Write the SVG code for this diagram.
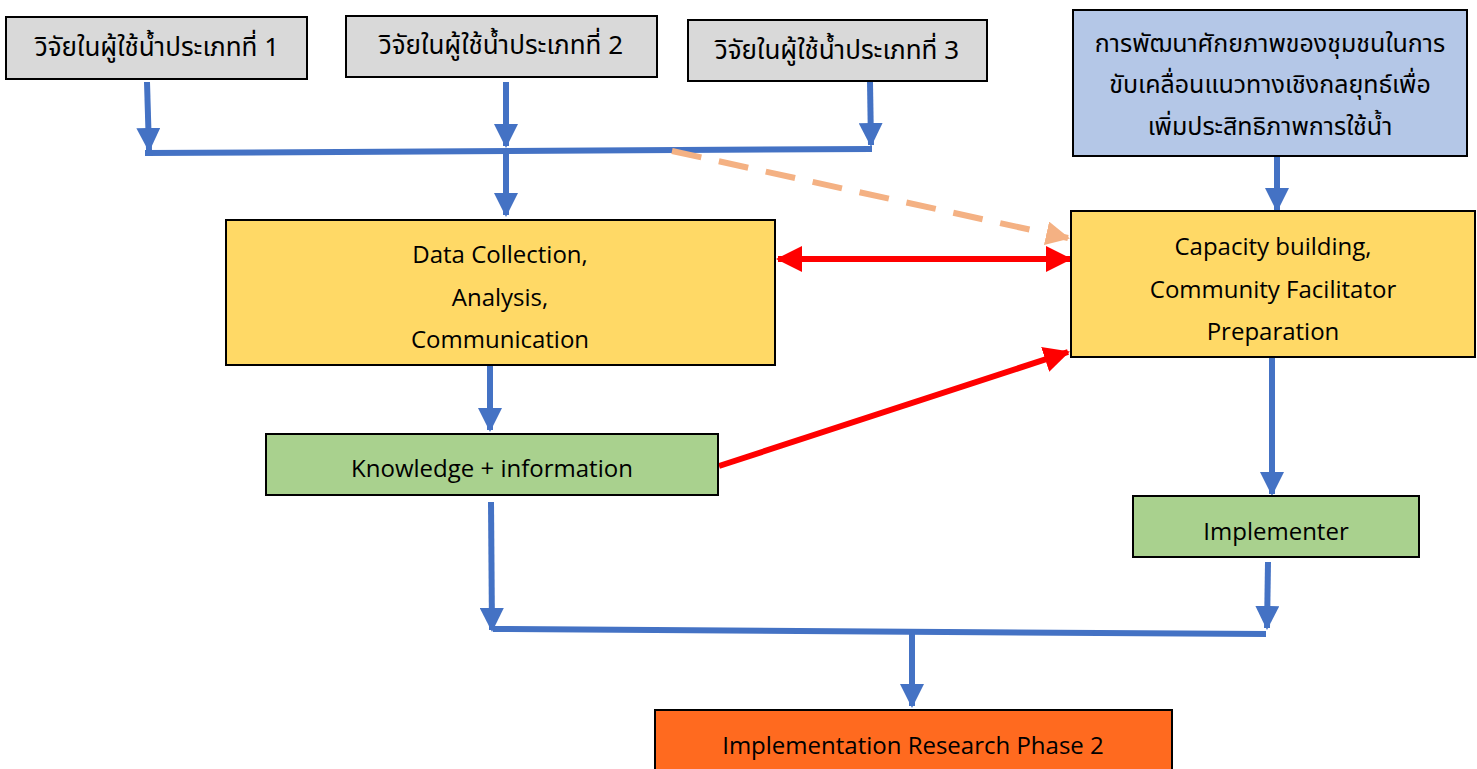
<svg xmlns="http://www.w3.org/2000/svg" width="1477" height="769" viewBox="0 0 1477 769">
<style>
.box{stroke:#000;stroke-width:2}
.grey{fill:#d9d9d9}
.blue{fill:#b4c7e7}
.yel{fill:#ffd966}
.grn{fill:#a9d18e}
.org{fill:#ff6a1f}
.th{font-family:"Noto Sans Thai","Noto Sans","DejaVu Sans",sans-serif;font-size:26px;fill:#000;text-anchor:middle;dominant-baseline:central}
.thb{font-size:25px}
.en{font-family:"Open Sans","Noto Sans",sans-serif;font-size:24px;fill:#000;text-anchor:middle;dominant-baseline:central}
.bl{stroke:#4472c4;stroke-width:6;fill:none}
.rd{stroke:#ff0000;stroke-width:6;fill:none}
.pe{stroke:#f4b183;stroke-width:6;fill:none;stroke-dasharray:30 18}
</style>
<defs>
<marker id="ab" markerUnits="userSpaceOnUse" markerWidth="26" markerHeight="24" refX="22" refY="12" orient="auto"><path d="M0,0 L24,12 L0,24 Z" fill="#4472c4"/></marker>
<marker id="ar" markerUnits="userSpaceOnUse" markerWidth="28" markerHeight="26" refX="24" refY="13" orient="auto"><path d="M0,0 L26,13 L0,26 Z" fill="#ff0000"/></marker>
<marker id="ars" markerUnits="userSpaceOnUse" markerWidth="28" markerHeight="26" refX="2" refY="13" orient="auto"><path d="M26,0 L0,13 L26,26 Z" fill="#ff0000"/></marker>
<marker id="ap" markerUnits="userSpaceOnUse" markerWidth="26" markerHeight="24" refX="22" refY="12" orient="auto"><path d="M0,0 L24,12 L0,24 Z" fill="#f4b183"/></marker>
</defs>
<g id="connectors">
<line class="bl" x1="147" y1="82" x2="149" y2="150" marker-end="url(#ab)"/>
<line class="bl" x1="506" y1="82" x2="506" y2="146" marker-end="url(#ab)"/>
<line class="bl" x1="870" y1="82" x2="871" y2="145" marker-end="url(#ab)"/>
<line class="bl" x1="145" y1="153" x2="872" y2="149"/>
<line class="bl" x1="506" y1="151" x2="506" y2="215" marker-end="url(#ab)"/>
<line class="pe" x1="672" y1="151" x2="1068" y2="238" marker-end="url(#ap)"/>
<line class="bl" x1="1277" y1="157" x2="1277" y2="210" marker-end="url(#ab)"/>
<line class="rd" x1="778" y1="259" x2="1070" y2="259" marker-start="url(#ars)" marker-end="url(#ar)"/>
<line class="rd" x1="719" y1="466" x2="1068" y2="352" marker-end="url(#ar)"/>
<line class="bl" x1="490" y1="366" x2="490" y2="430" marker-end="url(#ab)"/>
<line class="bl" x1="1272" y1="358" x2="1272" y2="494" marker-end="url(#ab)"/>
<line class="bl" x1="491" y1="502" x2="492" y2="630" marker-end="url(#ab)"/>
<line class="bl" x1="1268" y1="562" x2="1267" y2="628" marker-end="url(#ab)"/>
<line class="bl" x1="493" y1="629" x2="1266" y2="634"/>
<line class="bl" x1="912" y1="632" x2="912" y2="706" marker-end="url(#ab)"/>
</g>
<g id="n1"><rect class="box grey" x="6" y="17" width="301" height="62"/><text class="th" x="157" y="48">วิจัยในผู้ใช้น้ำประเภทที่ 1</text></g>
<g id="n2"><rect class="box grey" x="346" y="16" width="311" height="61"/><text class="th" x="501" y="46">วิจัยในผู้ใช้น้ำประเภทที่ 2</text></g>
<g id="n3"><rect class="box grey" x="688" y="20" width="299" height="61"/><text class="th" x="837" y="51">วิจัยในผู้ใช้น้ำประเภทที่ 3</text></g>
<g id="n4"><rect class="box blue" x="1073" y="10" width="394" height="146"/>
<text class="th thb" x="1270" y="44">การพัฒนาศักยภาพของชุมชนในการ</text>
<text class="th thb" x="1270" y="85">ขับเคลื่อนแนวทางเชิงกลยุทธ์เพื่อ</text>
<text class="th thb" x="1270" y="127">เพิ่มประสิทธิภาพการใช้น้ำ</text></g>
<g id="n5"><rect class="box yel" x="226" y="220" width="549" height="145"/>
<text class="en" x="500" y="253">Data Collection,</text>
<text class="en" x="500" y="296">Analysis,</text>
<text class="en" x="500" y="338">Communication</text></g>
<g id="n6"><rect class="box yel" x="1071" y="211" width="404" height="146"/>
<text class="en" x="1273" y="245">Capacity building,</text>
<text class="en" x="1273" y="288">Community Facilitator</text>
<text class="en" x="1273" y="330">Preparation</text></g>
<g id="n7"><rect class="box grn" x="266" y="434" width="452" height="61"/><text class="en" x="492" y="467">Knowledge + information</text></g>
<g id="n8"><rect class="box grn" x="1133" y="496" width="286" height="61"/><text class="en" x="1276" y="530">Implementer</text></g>
<g id="n9"><rect class="box org" x="655" y="710" width="517" height="70"/><text class="en" x="913" y="744">Implementation Research Phase 2</text></g>
</svg>
